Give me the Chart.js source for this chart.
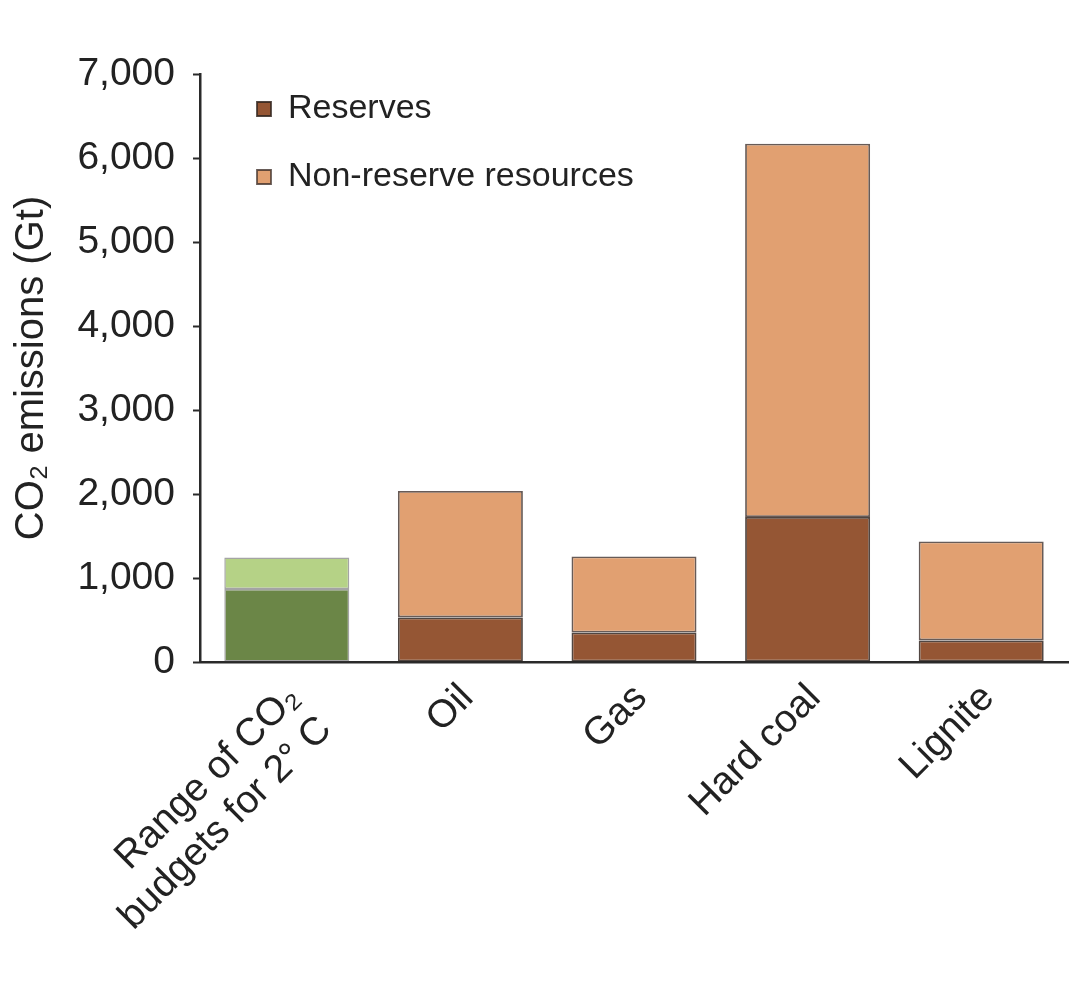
<!DOCTYPE html>
<html>
<head>
<meta charset="utf-8">
<title>CO2 emissions from fossil fuel reserves and resources</title>
<script src="https://cdn.jsdelivr.net/npm/chart.js@4.4.1/dist/chart.umd.min.js"></script>
<style>
  html, body { margin: 0; padding: 0; background: #ffffff; }
  #chart { display: block; }
</style>
</head>
<body>
<canvas id="chart" width="1092" height="985"></canvas>
<script>
// values (Gt CO2)
const categories = [['Range of CO\u2082', 'budgets for 2\u00b0 C'], 'Oil', 'Gas', 'Hard coal', 'Lignite'];
const budgetLow = [870, null, null, null, null];
const budgetHigh = [1245, null, null, null, null];
const reserves = [null, 531, 352, 1726, 257];
const totalResources = [null, 2036, 1257, 6170, 1436];
const yTicks = [0, 1000, 2000, 3000, 4000, 5000, 6000, 7000];

const textColor = '#222222';
const fontFamily = '"Liberation Sans", Arial, Helvetica, sans-serif';

// floating bars: [start, end]
const span = (from, to) => from.map((v, i) => (v == null || to[i] == null) ? null : [v, to[i]]);
const zeros = categories.map(() => 0);

// put the legend inside the plot, top left, like the original
const legendShift = {
  id: 'legendShift',
  afterLayout(chart) {
    const legend = chart.legend;
    legend.left = chart.chartArea.left + 23;
    legend.top = chart.chartArea.top - 16;
  }
};

const ctx = document.getElementById('chart');
new Chart(ctx, {
  type: 'bar',
  data: {
    labels: categories,
    datasets: [
      {
        label: 'Budget',
        data: span(zeros, budgetLow),
        backgroundColor: '#6b8647',
        borderColor: 'rgba(90,90,90,0.55)',
        borderWidth: 1.5
      },
      {
        label: 'Budget range',
        data: span(budgetLow, budgetHigh),
        backgroundColor: '#b5d286',
        borderColor: 'rgba(90,90,90,0.55)',
        borderWidth: 1.5
      },
      {
        label: 'Reserves',
        data: span(zeros, reserves),
        backgroundColor: '#955634',
        borderColor: 'rgba(50,38,32,0.85)',
        borderWidth: 1.8
      },
      {
        label: 'Non-reserve resources',
        data: span(reserves, totalResources),
        backgroundColor: '#e1a071',
        borderColor: 'rgba(65,50,45,0.8)',
        borderWidth: 1.8
      }
    ]
  },
  options: {
    responsive: false,
    animation: false,
    layout: {
      padding: { top: 74, right: 24, bottom: 0, left: 0 }
    },
    datasets: {
      bar: {
        barPercentage: 0.72,
        categoryPercentage: 1,
        borderSkipped: false
      }
    },
    plugins: {
      tooltip: { enabled: false },
      legend: {
        position: 'chartArea',
        align: 'start',
        labels: {
          filter: item => item.text === 'Reserves' || item.text === 'Non-reserve resources',
          boxWidth: 14,
          boxHeight: 14,
          padding: 34,
          color: textColor,
          font: { family: fontFamily, size: 34 }
        }
      }
    },
    scales: {
      x: {
        stacked: true,
        grid: { display: false, drawTicks: false },
        border: { display: true, color: '#2a2a2a', width: 2.5 },
        afterFit: scale => { scale.height = 323; },
        ticks: {
          autoSkip: false,
          minRotation: 45,
          maxRotation: 45,
          padding: 14,
          labelOffset: 7,
          color: textColor,
          font: { family: fontFamily, size: 39, lineHeight: 1.15 }
        }
      },
      y: {
        min: 0,
        max: 7000,
        afterFit: scale => { scale.width = 200; },
        afterBuildTicks: scale => { scale.ticks = yTicks.map(v => ({ value: v })); },
        grid: {
          drawOnChartArea: false,
          tickLength: 7,
          tickWidth: 2,
          tickColor: '#2a2a2a'
        },
        border: { display: true, color: '#2a2a2a', width: 2.5 },
        ticks: {
          padding: 18,
          color: textColor,
          font: { family: fontFamily, size: 39 }
        },
        title: {
          display: true,
          text: 'CO\u2082 emissions (Gt)',
          color: textColor,
          padding: { top: 8, bottom: 0 },
          font: { family: fontFamily, size: 40 }
        }
      }
    }
  },
  plugins: [legendShift]
});
</script>
</body>
</html>
